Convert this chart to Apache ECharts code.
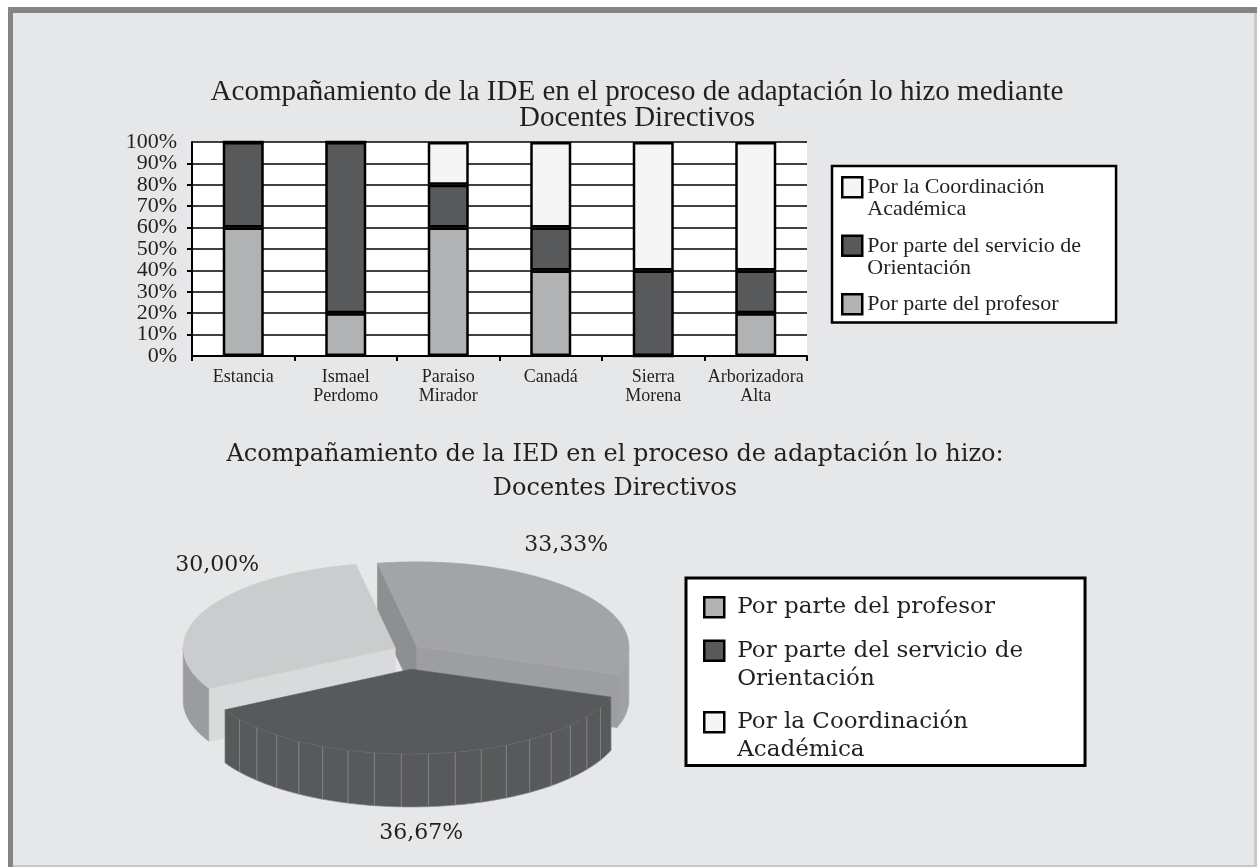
<!DOCTYPE html>
<html><head><meta charset="utf-8">
<script src="https://cdn.jsdelivr.net/npm/echarts@6/dist/echarts.min.js"></script>
<style>html,body{margin:0;padding:0;background:#fff}#c{width:1257px;height:867px}</style>
</head><body><div id="c"></div>
<script>
// ---------- data ----------
const barTitle = 'Acompañamiento de la IDE en el proceso de adaptación lo hizo mediante\nDocentes Directivos';
const pieTitle = 'Acompañamiento de la IED en el proceso de adaptación lo hizo:\nDocentes Directivos';
const categories = ['Estancia', 'Ismael\nPerdomo', 'Paraiso\nMirador', 'Canadá', 'Sierra\nMorena', 'Arborizadora\nAlta'];
const seriesNames = ['Por parte del profesor', 'Por parte del servicio de Orientación', 'Por la Coordinación Académica'];
const legendText = {
  'Por parte del profesor': 'Por parte del profesor',
  'Por parte del servicio de Orientación': 'Por parte del servicio de\nOrientación',
  'Por la Coordinación Académica': 'Por la Coordinación\nAcadémica'
};
const profesor = [60, 20, 60, 40, 0, 20];
const orientacion = [40, 80, 20, 20, 40, 20];
const coordinacion = [0, 0, 20, 40, 60, 60];
const pieValues = [33.33, 36.67, 30.00];
const pieLabels = ['33,33%', '36,67%', '30,00%'];

// ---------- styles ----------
const TXT = '#231f20';
const barColors = ['#b1b2b4', '#58595b', '#f4f5f4'];
const pieStyle = [
  {top: '#a3a4a7', wall: '#a0a1a3', face0: '#8e8f91', face1: '#9d9ea1'},
  {top: '#58595b', wall: '#58595b', face0: '#4a4b4d', face1: '#4a4b4d', facets: true},
  {top: '#cbcccd', wall: '#9b9c9e', face0: '#d9dadb', face1: '#b5b6b8'}
];
const PIE = {cx: 407, cy: 650, r: 212, k: 0.40, h: 53, startAngle: -10.7, explode: [13, 48, 13]};
const yLabelStyle = {formatter: '{value}%', margin: 15, fontFamily: 'Liberation Serif', fontSize: 22, color: TXT};

const chart = echarts.init(document.getElementById('c'), null, {renderer: 'canvas'});

function pieItem(params, api) {
  const i = params.dataIndex;
  const total = pieValues.reduce((a, b) => a + b, 0);
  let cum = 0;
  for (let j = 0; j < i; j++) cum += pieValues[j];
  const v = api.value(0);
  const a0 = PIE.startAngle + cum / total * 360;
  const a1 = a0 + v / total * 360;
  const midDeg = (a0 + a1) / 2;
  const mid = midDeg * Math.PI / 180;
  const ex = PIE.explode[i];
  const ox = PIE.cx + ex * Math.sin(mid);
  const oy = PIE.cy - ex * PIE.k * Math.cos(mid);
  const P = (deg, dy) => {
    const t = deg * Math.PI / 180;
    return [ox + PIE.r * Math.sin(t), oy - PIE.r * PIE.k * Math.cos(t) + (dy || 0)];
  };
  const arc = (s, e, dy) => {
    const pts = [];
    const n = Math.max(2, Math.ceil(Math.abs(e - s)));
    for (let j = 0; j <= n; j++) pts.push(P(s + (e - s) * j / n, dy));
    return pts;
  };
  const st = pieStyle[i];
  const depth = -Math.cos(mid);
  const base = 10 + Math.round((depth + 1) * 10) * 10;
  const children = [];
  const poly = (pts, fill, z2, stroke, lw) => ({
    type: 'polygon', shape: {points: pts}, z2: z2,
    style: {fill: fill, stroke: stroke || fill, lineWidth: lw == null ? 0.6 : lw}
  });
  const lo = Math.max(a0, 90), hi = Math.min(a1, 270);
  if (lo < hi) {
    if (st.facets) {
      const step = 7.5;
      const n = Math.ceil((hi - lo) / step);
      for (let j = 0; j < n; j++) {
        const s = lo + (hi - lo) * j / n, e = lo + (hi - lo) * (j + 1) / n;
        children.push(poly(arc(s, e, 0).concat(arc(e, s, PIE.h)), st.wall, base + 1, '#848587', 0.7));
      }
    } else {
      children.push(poly(arc(lo, hi, 0).concat(arc(hi, lo, PIE.h)), st.wall, base + 1));
    }
  }
  const apex = [ox, oy], apexB = [ox, oy + PIE.h];
  if (Math.cos((a0 - 90) * Math.PI / 180) < 0) {
    children.push(poly([apex, P(a0), P(a0, PIE.h), apexB], st.face0, base + 2));
  }
  if (Math.cos((a1 + 90) * Math.PI / 180) < 0) {
    children.push(poly([apex, P(a1), P(a1, PIE.h), apexB], st.face1, base + 2));
  }
  children.push(poly([apex].concat(arc(a0, a1, 0)), st.top, base + 3));
  const front = Math.cos(mid) < 0;
  const e = P(midDeg, front ? PIE.h : 0);
  children.push({
    type: 'text', z2: 500,
    style: {
      text: pieLabels[i], x: e[0] - Math.sin(mid) * 15 - (front ? 6 : 0), y: e[1] + (front ? 27 : -46),
      align: 'center', verticalAlign: 'middle',
      font: '22px "DejaVu Serif"', fill: TXT
    }
  });
  return {type: 'group', children: children};
}

const barSeries = [profesor, orientacion, coordinacion].map((arr, i) => ({
  name: seriesNames[i], type: 'bar', stack: 'total', barWidth: 41, data: arr,
  itemStyle: {color: barColors[i], borderColor: '#000', borderWidth: 2.5},
  emphasis: {disabled: true}
}));

// legend icon: square aligned with the first text line
function legendItems(order, w, lh, sq) {
  return order.map(n => {
    const two = legendText[n].indexOf('\n') >= 0;
    const t = (lh - sq) / 2;
    const icon = two
      ? `path://M0,0M${w},0M0,${2 * lh}M0,${t}L${sq},${t}L${sq},${t + sq}L0,${t + sq}Z`
      : `path://M0,0M${w},0M0,${lh}M0,${t}L${sq},${t}L${sq},${t + sq}L0,${t + sq}Z`;
    return {name: n, icon: icon};
  });
}

const option = {
  backgroundColor: '#ffffff',
  animation: false,
  graphic: [
    {type: 'rect', z: -10, shape: {x: 8, y: 7, width: 1249, height: 860}, style: {fill: '#838486'}},
    {type: 'rect', z: -10, shape: {x: 13, y: 13, width: 1244, height: 854}, style: {fill: '#c8c9cb'}},
    {type: 'rect', z: -10, shape: {x: 13, y: 13, width: 1241, height: 852}, style: {fill: '#e6e7e9'}}
  ],
  title: [
    {text: barTitle, left: 637, top: 79, textAlign: 'center', padding: 0,
     textStyle: {fontFamily: 'Liberation Serif', fontSize: 29, fontWeight: 'normal', color: TXT, lineHeight: 26}},
    {text: pieTitle, left: 615, top: 438, textAlign: 'center', padding: 0,
     textStyle: {fontFamily: 'DejaVu Serif', fontSize: 24, fontWeight: 'normal', color: TXT, lineHeight: 34}}
  ],
  legend: [
    {
      orient: 'vertical', left: 832, top: 166, symbolKeepAspect: true,
      itemWidth: 20, itemHeight: 44, itemGap: 12,
      padding: [9, 35, 6, 9],
      backgroundColor: '#fff', borderColor: '#000', borderWidth: 2.5,
      data: legendItems([seriesNames[2], seriesNames[1], seriesNames[0]], 20, 22, 20),
      formatter: n => legendText[n],
      itemStyle: {borderColor: '#000', borderWidth: 2.5},
      textStyle: {fontFamily: 'Liberation Serif', fontSize: 22, lineHeight: 22, color: TXT},
      selectedMode: false
    },
    {
      orient: 'vertical', left: 686, top: 578, symbolKeepAspect: true,
      itemWidth: 28, itemHeight: 56, itemGap: 13,
      padding: [14, 62, 0, 17],
      backgroundColor: '#fff', borderColor: '#000', borderWidth: 3,
      data: legendItems([seriesNames[0], seriesNames[1], seriesNames[2]], 28, 28, 20),
      formatter: n => legendText[n],
      itemStyle: {borderColor: '#000', borderWidth: 2.5},
      textStyle: {fontFamily: 'DejaVu Serif', fontSize: 23, lineHeight: 28, color: TXT},
      selectedMode: false
    }
  ],
  grid: {left: 192, right: 450, top: 142, bottom: 511, show: true, backgroundColor: '#fff', borderWidth: 0},
  xAxis: {
    type: 'category', data: categories,
    axisLine: {lineStyle: {color: '#000', width: 2}},
    axisTick: {show: true, length: 5, lineStyle: {color: '#000', width: 2}},
    axisLabel: {interval: 0, margin: 12, fontFamily: 'Liberation Serif', fontSize: 18, lineHeight: 19, color: TXT}
  },
  yAxis: [
    {
      type: 'value', min: 0, max: 100, interval: 10, position: 'left',
      axisLine: {show: true, lineStyle: {color: '#000', width: 2}},
      axisTick: {show: true, length: 5, lineStyle: {color: '#000', width: 2}},
      splitLine: {show: true, lineStyle: {color: '#000', width: 1.5}},
      axisLabel: Object.assign({showMinLabel: false, showMaxLabel: false}, yLabelStyle)
    },
    {
      type: 'value', min: 0, max: 100, interval: 100, position: 'left', offset: 0,
      axisLine: {show: false}, axisTick: {show: false}, splitLine: {show: false},
      axisLabel: Object.assign({showMinLabel: true, showMaxLabel: true}, yLabelStyle)
    }
  ],
  series: barSeries.concat([{
    type: 'custom', name: 'pie3d', coordinateSystem: 'none',
    data: pieValues.map(v => [v]),
    renderItem: pieItem, silent: true
  }])
};
chart.setOption(option);
</script></body></html>
